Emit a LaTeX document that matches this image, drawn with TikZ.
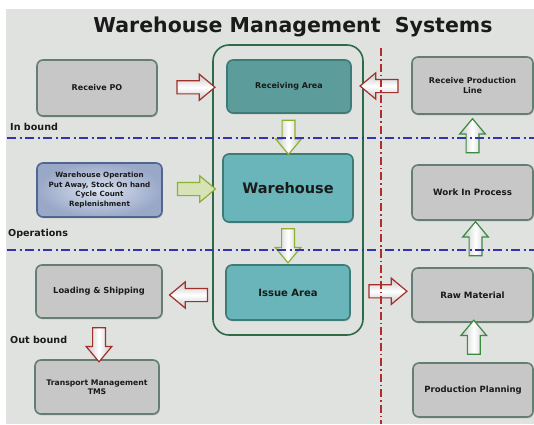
\documentclass[tikz,border=0pt]{standalone}
\usepackage{fontspec}
\setmainfont{DejaVu Sans}
\usetikzlibrary{shapes.arrows,shadows,calc}
\definecolor{bg}{HTML}{E0E2E0}
\definecolor{grayfill}{HTML}{C6C7C6}
\definecolor{grayedge}{HTML}{647E74}
\definecolor{tealA}{HTML}{5C9D9B}
\definecolor{tealB}{HTML}{69B5B9}
\definecolor{tealedge}{HTML}{3C7B76}
\definecolor{boxtext}{HTML}{1A1A1A}
\definecolor{contgreen}{HTML}{2F6A48}
\definecolor{lineblue}{HTML}{3434B0}
\definecolor{linered}{HTML}{B52A2A}
\definecolor{arrred}{HTML}{A0302A}
\definecolor{arrlime}{HTML}{8CB030}
\definecolor{arrgreen}{HTML}{3A8A40}
\definecolor{woin}{HTML}{DAE2EF}
\definecolor{woout}{HTML}{9AA8C8}
\begin{document}
\begin{tikzpicture}[x=1pt,y=-1pt,
  basebox/.style={rectangle, rounded corners=6pt, line width=1.6pt, inner sep=2pt,
    text=boxtext, align=center,
    drop shadow={shadow xshift=0.8pt, shadow yshift=-1.4pt, opacity=0.35}},
  graybox/.style={basebox, fill=grayfill, draw=grayedge},
  tealbox/.style={basebox, fill=tealB, draw=tealedge},
  fs/.style={font=\fontsize{#1}{9.5}\selectfont\bfseries},
  lbl/.style={anchor=west, inner sep=0pt, text=boxtext, font=\fontsize{9.6}{11}\selectfont\bfseries},
  blockarrow/.style={single arrow, inner sep=6pt, line width=1.2pt,
    single arrow head extend=6.5pt, single arrow tip angle=80},
  harrow/.style={blockarrow, minimum height=38pt,
    top color=gray!45, bottom color=gray!45, middle color=white},
  varrow/.style={blockarrow, minimum height=34pt, inner sep=5.8pt,
    left color=gray!45, right color=gray!45, middle color=white},
  dashline/.style={line width=1.3pt, dash pattern=on 9pt off 3.5pt on 2pt off 3.5pt}
]
\useasboundingbox (0,0) rectangle (534,424);
\fill[white] (0,0) rectangle (534,424);
\fill[bg] (6,9) rectangle (534,424);

% title
\node[text=boxtext, font=\fontsize{20.5}{24}\selectfont\bfseries, inner sep=0pt] (title) at (293,27) {Warehouse Management\hspace{0.35em} Systems};

% container
\draw[contgreen, line width=1.6pt, rounded corners=16pt] (213,45) rectangle (363,335);
\coordinate (cont) at (288,190);

% boxes
\node[graybox, fs=8, minimum width=120pt, minimum height=56pt] (po) at (97,88) {Receive PO};
\node[tealbox, fill=tealA, fs=8, minimum width=124pt, minimum height=53pt] (ra) at (289,86.5) {Receiving Area};
\node[graybox, fs=8, minimum width=121pt, minimum height=57pt] (rpl) at (472.5,85.5) {Receive Production\\Line};
\node[basebox, draw=grayedge!80!blue, inner color=woin, outer color=woout, font=\fontsize{7.2}{9.5}\selectfont\bfseries, minimum width=125pt, minimum height=54pt] (wo) at (99.5,190) {Warehouse Operation\\Put Away, Stock On hand\\Cycle Count\\Replenishment};
\node[tealbox, fs=14.5, minimum width=130pt, minimum height=68pt] (wh) at (288,188) {Warehouse};
\node[graybox, fs=8.7, minimum width=121pt, minimum height=55pt] (wip) at (472.5,192.5) {Work In Process};
\node[graybox, fs=8.3, minimum width=126pt, minimum height=53pt] (ls) at (99,291.5) {Loading \& Shipping};
\node[tealbox, fs=10, minimum width=124pt, minimum height=55pt] (ia) at (288,292.5) {Issue Area};
\node[graybox, fs=8.7, minimum width=121pt, minimum height=54pt] (rm) at (472.5,295) {Raw Material};
\node[graybox, fs=7.7, minimum width=124pt, minimum height=54pt] (tms) at (97,387) {Transport Management\\TMS};
\node[graybox, fs=8.5, minimum width=120pt, minimum height=54pt] (pp) at (473,390) {Production Planning};

% section labels
\node[lbl] (inb) at (10,127) {In bound};
\node[lbl] (ops) at (8,234) {Operations};
\node[lbl] (outb) at (10,340) {Out bound};

% block arrows between boxes
\node[harrow, draw=arrred] (a1) at ($(po.east)!0.5!(ra.west)$) {};
\node[harrow, draw=arrred, shape border rotate=180] (a2) at ($(ra.east)!0.5!(rpl.west)+(1.5,0)$) {};
\node[varrow, draw=arrlime, shape border rotate=270] (a3) at ($(ra.south)!0.5!(wh.north)$) {};
\node[harrow, draw=arrlime, top color=arrlime!35, bottom color=arrlime!35] (a4) at ($(wo.east)!0.5!(wh.west)$) {};
\node[varrow, draw=arrlime, shape border rotate=270] (a5) at ($(wh.south)!0.5!(ia.north)+(0,-1.5)$) {};
\node[harrow, draw=arrred, shape border rotate=180] (a6) at ($(ls.east)!0.5!(ia.west)+(-1.5,3)$) {};
\node[harrow, draw=arrred] (a7) at ($(ia.east)!0.5!(rm.west)+(3,-2.5)$) {};
\node[varrow, draw=arrred, shape border rotate=270] (a8) at ($(ls.south)!0.5!(tms.north)+(1,2)$) {};
\node[varrow, draw=arrgreen, shape border rotate=90] (a9) at ($(wip.north)!0.5!(rpl.south)$) {};
\node[varrow, draw=arrgreen, shape border rotate=90] (a10) at ($(rm.north)!0.5!(wip.south)+(3,-1.5)$) {};
\node[varrow, draw=arrgreen, shape border rotate=90] (a11) at ($(pp.north)!0.5!(rm.south)+(1,-1.5)$) {};

% dash-dot separators
\coordinate (h1l) at (7,138); \coordinate (h1r) at (534,138);
\coordinate (h2l) at (7,250); \coordinate (h2r) at (534,250);
\coordinate (vt) at (381,48); \coordinate (vb) at (381,424);
\draw[dashline, lineblue] (h1l) -- (h1r);
\draw[dashline, lineblue] (h2l) -- (h2r);
\draw[dashline, linered, dash pattern=on 8pt off 3pt on 1.5pt off 3pt] (vt) -- (vb);
\end{tikzpicture}
\end{document}
